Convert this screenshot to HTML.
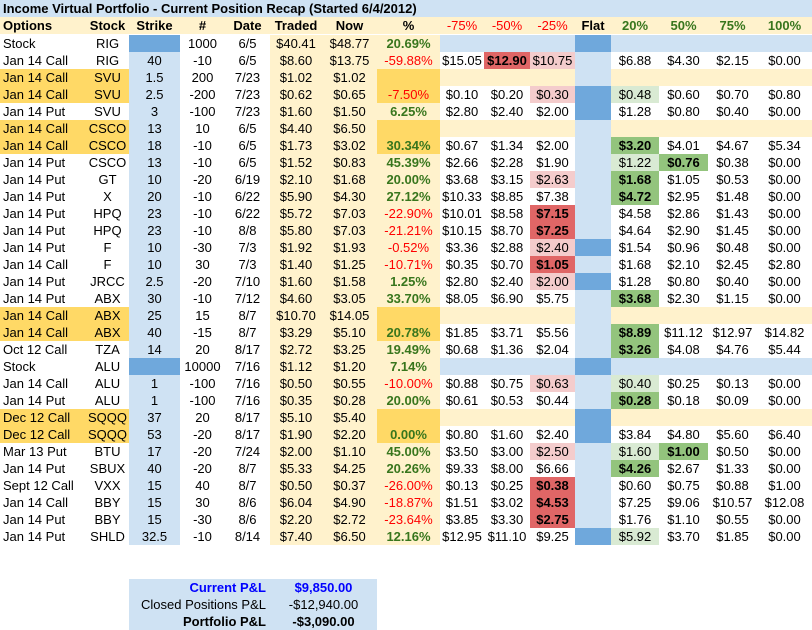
<!DOCTYPE html>
<html><head><meta charset="utf-8"><style>
body{margin:0;width:812px;height:630px;background:#fff;position:relative;overflow:hidden;font-family:"Liberation Sans",Arial,sans-serif;font-size:13px;color:#000}
.c{position:absolute;height:17px;line-height:17px;text-align:center;white-space:nowrap;overflow:hidden}
.b{font-weight:bold}
</style></head><body>
<div class="c b" style="left:0;top:0;width:812px;background:#cfe2f3;text-align:left;font-size:13px;padding-left:3px;box-sizing:border-box">Income Virtual Portfolio - Current Position Recap (Started 6/4/2012)</div>
<div id="tbl"></div>
<div style="position:absolute;left:129px;top:579px;width:248px;height:51px;background:#cfe2f3"></div>
<div class="c b" style="left:129px;top:579px;width:137px;text-align:right;color:#0000ff">Current P&amp;L</div>
<div class="c b" style="left:270px;top:579px;width:107px;color:#0000ff">$9,850.00</div>
<div class="c" style="left:129px;top:596px;width:137px;text-align:right">Closed Positions P&amp;L</div>
<div class="c" style="left:270px;top:596px;width:107px">-$12,940.00</div>
<div class="c b" style="left:129px;top:613px;width:137px;text-align:right">Portfolio P&amp;L</div>
<div class="c b" style="left:270px;top:613px;width:107px">-$3,090.00</div>
<script>
const colX=[0,86,129,180,225,270,322,377,440,484,530,575,611,659,708,757,812];
const headers=["Options","Stock","Strike","#","Date","Traded","Now","%","-75%","-50%","-25%","Flat","20%","50%","75%","100%"];
const rows=[
["Stock","RIG","","1000","6/5","$40.41","$48.77","20.69%","","","","d","","","","","S",""],
["Jan 14 Call","RIG","40","-10","6/5","$8.60","$13.75","-59.88%","$15.05","$12.90","$10.75","l","$6.88","$4.30","$2.15","$0.00","","-Rr-----"],
["Jan 14 Call","SVU","1.5","200","7/23","$1.02","$1.02","","","","","l","","","","","OE",""],
["Jan 14 Call","SVU","2.5","-200","7/23","$0.62","$0.65","-7.50%","$0.10","$0.20","$0.30","d","$0.48","$0.60","$0.70","$0.80","O","--r-g---"],
["Jan 14 Put","SVU","3","-100","7/23","$1.60","$1.50","6.25%","$2.80","$2.40","$2.00","d","$1.28","$0.80","$0.40","$0.00","",""],
["Jan 14 Call","CSCO","13","10","6/5","$4.40","$6.50","","","","","l","","","","","OE",""],
["Jan 14 Call","CSCO","18","-10","6/5","$1.73","$3.02","30.34%","$0.67","$1.34","$2.00","l","$3.20","$4.01","$4.67","$5.34","O","----G---"],
["Jan 14 Put","CSCO","13","-10","6/5","$1.52","$0.83","45.39%","$2.66","$2.28","$1.90","l","$1.22","$0.76","$0.38","$0.00","","----gG--"],
["Jan 14 Put","GT","10","-20","6/19","$2.10","$1.68","20.00%","$3.68","$3.15","$2.63","l","$1.68","$1.05","$0.53","$0.00","","--r-G---"],
["Jan 14 Put","X","20","-10","6/22","$5.90","$4.30","27.12%","$10.33","$8.85","$7.38","l","$4.72","$2.95","$1.48","$0.00","","----G---"],
["Jan 14 Put","HPQ","23","-10","6/22","$5.72","$7.03","-22.90%","$10.01","$8.58","$7.15","l","$4.58","$2.86","$1.43","$0.00","","--R-----"],
["Jan 14 Put","HPQ","23","-10","8/8","$5.80","$7.03","-21.21%","$10.15","$8.70","$7.25","l","$4.64","$2.90","$1.45","$0.00","","--R-----"],
["Jan 14 Put","F","10","-30","7/3","$1.92","$1.93","-0.52%","$3.36","$2.88","$2.40","d","$1.54","$0.96","$0.48","$0.00","","--r-----"],
["Jan 14 Call","F","10","30","7/3","$1.40","$1.25","-10.71%","$0.35","$0.70","$1.05","l","$1.68","$2.10","$2.45","$2.80","","--R-----"],
["Jan 14 Put","JRCC","2.5","-20","7/10","$1.60","$1.58","1.25%","$2.80","$2.40","$2.00","d","$1.28","$0.80","$0.40","$0.00","","--r-----"],
["Jan 14 Put","ABX","30","-10","7/12","$4.60","$3.05","33.70%","$8.05","$6.90","$5.75","l","$3.68","$2.30","$1.15","$0.00","","----G---"],
["Jan 14 Call","ABX","25","15","8/7","$10.70","$14.05","","","","","l","","","","","OE",""],
["Jan 14 Call","ABX","40","-15","8/7","$3.29","$5.10","20.78%","$1.85","$3.71","$5.56","l","$8.89","$11.12","$12.97","$14.82","O","----G---"],
["Oct 12 Call","TZA","14","20","8/17","$2.72","$3.25","19.49%","$0.68","$1.36","$2.04","l","$3.26","$4.08","$4.76","$5.44","","----G---"],
["Stock","ALU","","10000","7/16","$1.12","$1.20","7.14%","","","","d","","","","","S",""],
["Jan 14 Call","ALU","1","-100","7/16","$0.50","$0.55","-10.00%","$0.88","$0.75","$0.63","l","$0.40","$0.25","$0.13","$0.00","","--r-g---"],
["Jan 14 Put","ALU","1","-100","7/16","$0.35","$0.28","20.00%","$0.61","$0.53","$0.44","l","$0.28","$0.18","$0.09","$0.00","","----G---"],
["Dec 12 Call","SQQQ","37","20","8/17","$5.10","$5.40","","","","","d","","","","","OE",""],
["Dec 12 Call","SQQQ","53","-20","8/17","$1.90","$2.20","0.00%","$0.80","$1.60","$2.40","d","$3.84","$4.80","$5.60","$6.40","O",""],
["Mar 13 Put","BTU","17","-20","7/24","$2.00","$1.10","45.00%","$3.50","$3.00","$2.50","l","$1.60","$1.00","$0.50","$0.00","","--r-gG--"],
["Jan 14 Put","SBUX","40","-20","8/7","$5.33","$4.25","20.26%","$9.33","$8.00","$6.66","l","$4.26","$2.67","$1.33","$0.00","","----G---"],
["Sept 12 Call","VXX","15","40","8/7","$0.50","$0.37","-26.00%","$0.13","$0.25","$0.38","l","$0.60","$0.75","$0.88","$1.00","","--R-----"],
["Jan 14 Call","BBY","15","30","8/6","$6.04","$4.90","-18.87%","$1.51","$3.02","$4.53","l","$7.25","$9.06","$10.57","$12.08","","--R-----"],
["Jan 14 Put","BBY","15","-30","8/6","$2.20","$2.72","-23.64%","$3.85","$3.30","$2.75","l","$1.76","$1.10","$0.55","$0.00","","--R-----"],
["Jan 14 Put","SHLD","32.5","-10","8/14","$7.40","$6.50","12.16%","$12.95","$11.10","$9.25","d","$5.92","$3.70","$1.85","$0.00","","----g---"]
];
const LB="#cfe2f3",DB="#6fa8dc",LY="#fff2cc",OR="#ffd966";
const tbl=document.getElementById('tbl');
function cell(ci,top,txt,bg,color,bold,left){
  const d=document.createElement('div');
  d.className='c'+(bold?' b':'');
  d.style.left=colX[ci]+'px';d.style.top=top+'px';d.style.width=(colX[ci+1]-colX[ci])+'px';
  if(bg)d.style.background=bg;
  if(color)d.style.color=color;
  if(left){d.style.textAlign='left';d.style.paddingLeft='3px';d.style.boxSizing='border-box';}
  d.textContent=txt;
  tbl.appendChild(d);
  return d;
}
headers.forEach((h,i)=>{
  const red=i>=8&&i<=10;
  const col=red?'#ff0000':(i>=12?'#38761d':null);
  const d=cell(i,17,h,LY,col,!red,i===0);
  
  
});
rows.forEach((r,ri)=>{
  const top=35+ri*17;
  const orange=r[16].includes('O'),stock=r[16]==='S',empty=r[16].includes('E');
  for(let ci=0;ci<16;ci++){
    let bg=null,color=null,bold=false,txt=ci===11?'':r[ci];
    if(ci<=1&&orange)bg=OR;
    if(ci===2)bg=stock?DB:LB;
    if(ci>=5&&ci<=6)bg=LY;
    if(ci===7){bg=orange?OR:LY;if(txt){if(txt[0]==='-'){color='#ff0000';}else{color='#38761d';bold=true;}}}
    if(ci===11)bg=r[11]==='d'?DB:LB;
    if(ci>=8&&ci!==11){
      if(stock)bg=LB;else if(empty)bg=LY;
      const k=ci-8;
      const code=(r[17]||'')[k];
      if(code==='R'){bg='#e06666';bold=true;}
      else if(code==='r')bg='#f4cccc';
      else if(code==='G'){bg='#93c47d';bold=true;}
      else if(code==='g')bg='#d9ead3';
    }
    const d=cell(ci,top,txt,bg,color,bold,ci===0);
    
    
  }
});
</script>
</body></html>
